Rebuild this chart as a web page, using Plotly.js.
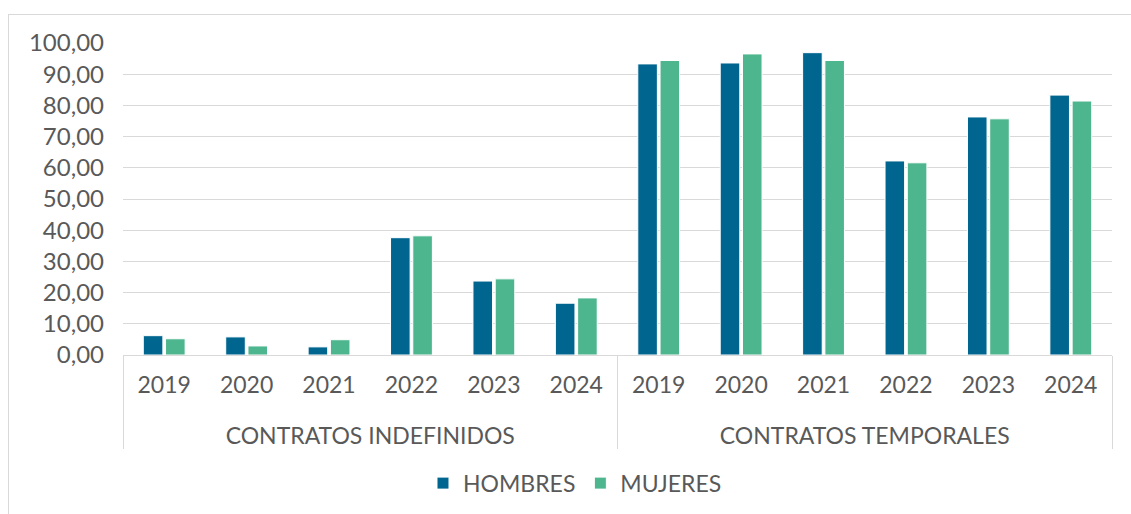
<!DOCTYPE html>
<html>
<head>
<meta charset="utf-8">
<script src="https://cdn.plot.ly/plotly-3.0.1.min.js"></script>
<style>
  html, body { margin: 0; padding: 0; background: #fff; }
  #wrap { position: relative; width: 1131px; height: 514px; }
  #chart { width: 1131px; height: 514px; }
  #frame {
    position: absolute; left: 8px; top: 14px; width: 1140px; height: 520px;
    border: 1px solid #d9d9d9; pointer-events: none;
  }
</style>
</head>
<body>
<div id="wrap">
  <div id="chart"></div>
  <div id="frame"></div>
</div>
<script>
// datos
const grupos = ["CONTRATOS INDEFINIDOS", "CONTRATOS TEMPORALES"];
const anios = ["2019", "2020", "2021", "2022", "2023", "2024"];
const hombres = [6.2, 5.8, 2.6, 37.6, 23.7, 16.6, 93.3, 93.6, 96.9, 62.2, 76.3, 83.3];
const mujeres = [5.2, 2.9, 4.9, 38.2, 24.4, 18.3, 94.4, 96.5, 94.4, 61.6, 75.7, 81.4];
const yTicks = [0, 10, 20, 30, 40, 50, 60, 70, 80, 90, 100];

// eje multicategoria (el <br> baja la etiqueta del grupo una linea)
const nivel1 = [];
const nivel2 = [];
grupos.forEach(g => {
  anios.forEach(a => {
    nivel1.push("<br>" + g);
    nivel2.push(a);
  });
});
const xCat = [nivel1, nivel2];

const familia = "Lato, 'Open Sans', sans-serif";
const gris = "#595959";

const data = [
  {
    type: "bar",
    name: "HOMBRES",
    x: xCat,
    y: hombres,
    marker: { color: "#00658f", line: { color: "#ffffff", width: 1 } },
    hoverinfo: "none"
  },
  {
    type: "bar",
    name: "MUJERES",
    x: xCat,
    y: mujeres,
    marker: { color: "#4eb68f", line: { color: "#ffffff", width: 1 } },
    hoverinfo: "none"
  }
];

const layout = {
  width: 1131,
  height: 514,
  margin: { l: 123, r: 19, t: 43, b: 159 },
  paper_bgcolor: "#ffffff",
  plot_bgcolor: "#ffffff",
  font: { family: familia, size: 23, color: gris },
  barmode: "group",
  bargap: 0.46,
  bargroupgap: 0.12,
  showlegend: true,
  legend: {
    orientation: "h",
    xref: "container",
    yref: "container",
    x: 0.374,
    xanchor: "left",
    y: 0.06,
    yanchor: "middle",
    font: { family: familia, size: 23, color: gris },
    itemwidth: 30
  },
  xaxis: {
    type: "multicategory",
    showline: true,
    linecolor: "#d9d9d9",
    linewidth: 1,
    showgrid: false,
    ticks: "",
    ticklabelstandoff: 9,
    showdividers: true,
    dividercolor: "#d9d9d9",
    dividerwidth: 1,
    tickfont: { family: familia, size: 23, color: gris },
    automargin: false
  },
  yaxis: {
    range: [0, 100],
    tickvals: yTicks,
    ticktext: yTicks.map(v => v.toFixed(2).replace(".", ",")),
    showgrid: true,
    gridcolor: "#d9d9d9",
    gridwidth: 1,
    zeroline: false,
    ticks: "",
    ticklabelstandoff: 18,
    tickfont: { family: familia, size: 24, color: gris },
    automargin: false
  }
};

Plotly.newPlot("chart", data, layout, { displayModeBar: false, staticPlot: true });
</script>
</body>
</html>
